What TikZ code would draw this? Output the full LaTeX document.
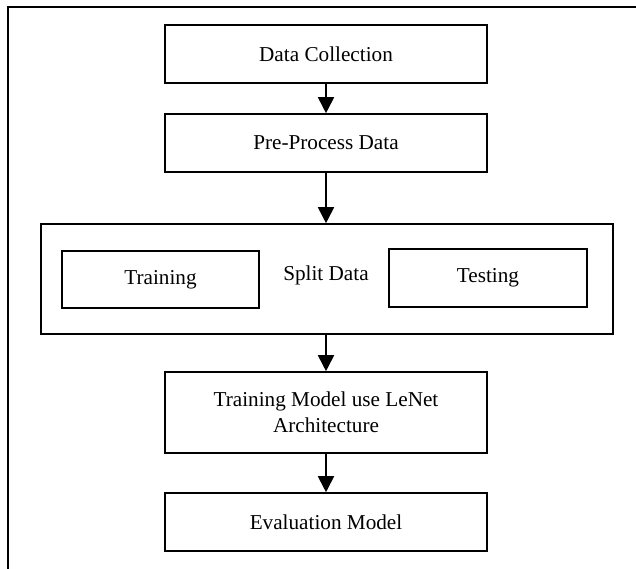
\documentclass[tikz,border=0pt]{standalone}
\usepackage{fontspec}
\setmainfont{Liberation Serif}
\usetikzlibrary{arrows.meta}
\begin{document}
\begin{tikzpicture}[x=1pt,y=-1pt,
  box/.style={draw,line width=1.6pt,rectangle,inner sep=0pt,font=\fontsize{21.2}{26}\selectfont,align=center},
  lbl/.style={inner sep=0pt,font=\fontsize{21.2}{26}\selectfont},
  arr/.style={line width=1.8pt,-{Triangle[length=16pt,width=16pt]}},
  frame/.style={line width=1.6pt}]
\useasboundingbox (0,0) rectangle (636,568);
\clip (0,0) rectangle (636,568);
\fill[white] (0,0) rectangle (636,568);
\coordinate (fb) at (8,600);
\coordinate (fc) at (8,7);
\coordinate (fr) at (660,7);
\draw[frame] (fb) -- (fc) -- (fr);
\node[box,minimum width=322pt,minimum height=58pt] (dc) at (326,54) {Data Collection};
\node[box,minimum width=322pt,minimum height=58pt] (pp) at (326,143) {Pre-Process Data};
\node[box,minimum width=572pt,minimum height=110pt] (sp) at (327,279) {};
\node[box,minimum width=197pt,minimum height=57pt] (tr) at (160.5,279.5) {Training};
\node[box,minimum width=198pt,minimum height=58pt] (te) at (488,278) {Testing};
\node[lbl] (sd) at (326,275) {Split Data};
\node[box,minimum width=322pt,minimum height=81pt] (tm) at (326,412.5) {Training Model use LeNet\\Architecture};
\node[box,minimum width=322pt,minimum height=58pt] (ev) at (326,522) {Evaluation Model};
\draw[arr] (dc.south) -- (pp.north);
\draw[arr] (pp.south) -- (pp.south |- sp.north);
\draw[arr] (tm.north |- sp.south) -- (tm.north);
\draw[arr] (tm.south) -- (ev.north);
\end{tikzpicture}
\end{document}
